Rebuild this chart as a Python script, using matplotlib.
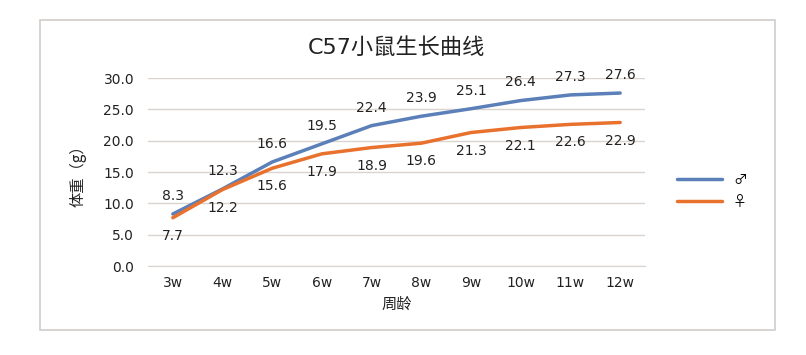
import matplotlib.pyplot as plt
from matplotlib.patches import Rectangle

plt.rcParams['font.family'] = ['DejaVu Sans', 'Noto Sans CJK SC']

weeks = ['3w', '4w', '5w', '6w', '7w', '8w', '9w', '10w', '11w', '12w']
male = [8.3, 12.3, 16.6, 19.5, 22.4, 23.9, 25.1, 26.4, 27.3, 27.6]
female = [7.7, 12.2, 15.6, 17.9, 18.9, 19.6, 21.3, 22.1, 22.6, 22.9]
yticks = [0, 5, 10, 15, 20, 25, 30]

blue = '#5b7fb8'
orange = '#e8712d'
text_c = '#222222'

fig = plt.figure(figsize=(8.06, 3.55), dpi=100)
# outer chart border
fig.patches.append(Rectangle((40 / 806, 1 - 330 / 355), 735 / 806, 310 / 355,
                             transform=fig.transFigure, fill=False,
                             edgecolor='#d0ccc8', linewidth=1.2))

ax = fig.add_axes([148 / 806, 1 - 266 / 355, 497 / 806, 188 / 355])
x = list(range(len(weeks)))
ax.plot(x, male, color=blue, lw=2.5, label='♂', solid_capstyle='round')
ax.plot(x, female, color=orange, lw=2.5, label='♀', solid_capstyle='round')

for i, v in enumerate(male):
    ax.annotate(f'{v:.1f}', (i, v), xytext=(0, 8), textcoords='offset points',
                ha='center', va='bottom', fontsize=10, color=text_c)
for i, v in enumerate(female):
    ax.annotate(f'{v:.1f}', (i, v), xytext=(0, -8), textcoords='offset points',
                ha='center', va='top', fontsize=10, color=text_c)

ax.set_xlim(-0.5, len(weeks) - 0.5)
ax.set_ylim(0, 30)
ax.set_yticks(yticks)
ax.set_yticklabels([f'{t:.1f}' for t in yticks])
ax.set_xticks(x)
ax.set_xticklabels(weeks)
ax.tick_params(length=0, labelsize=10, colors=text_c, pad=10)
ax.tick_params(axis='x', pad=7)
ax.grid(axis='y', color='#d9d4cf', lw=1)
ax.set_axisbelow(True)
for s in ['top', 'right', 'left']:
    ax.spines[s].set_visible(False)
ax.spines['bottom'].set_color('#d9d4cf')

ax.set_title('C57小鼠生长曲线', fontsize=16, color=text_c, pad=17,
             family=['DejaVu Sans', 'Noto Sans CJK SC'])
ax.set_xlabel('周龄', fontsize=11, color=text_c, labelpad=4,
              family=['Noto Sans CJK SC'])
ax.set_ylabel('体重（g）', fontsize=11, color=text_c, labelpad=12,
              family=['Noto Sans CJK SC'])

ax.legend(loc='center left', bbox_to_anchor=(1.04, 0.40), frameon=False,
          handlelength=3.2, labelspacing=0.55,
          prop={'family': ['Noto Sans CJK SC', 'DejaVu Sans'], 'size': 10})

fig.savefig('out.png', dpi=100)
